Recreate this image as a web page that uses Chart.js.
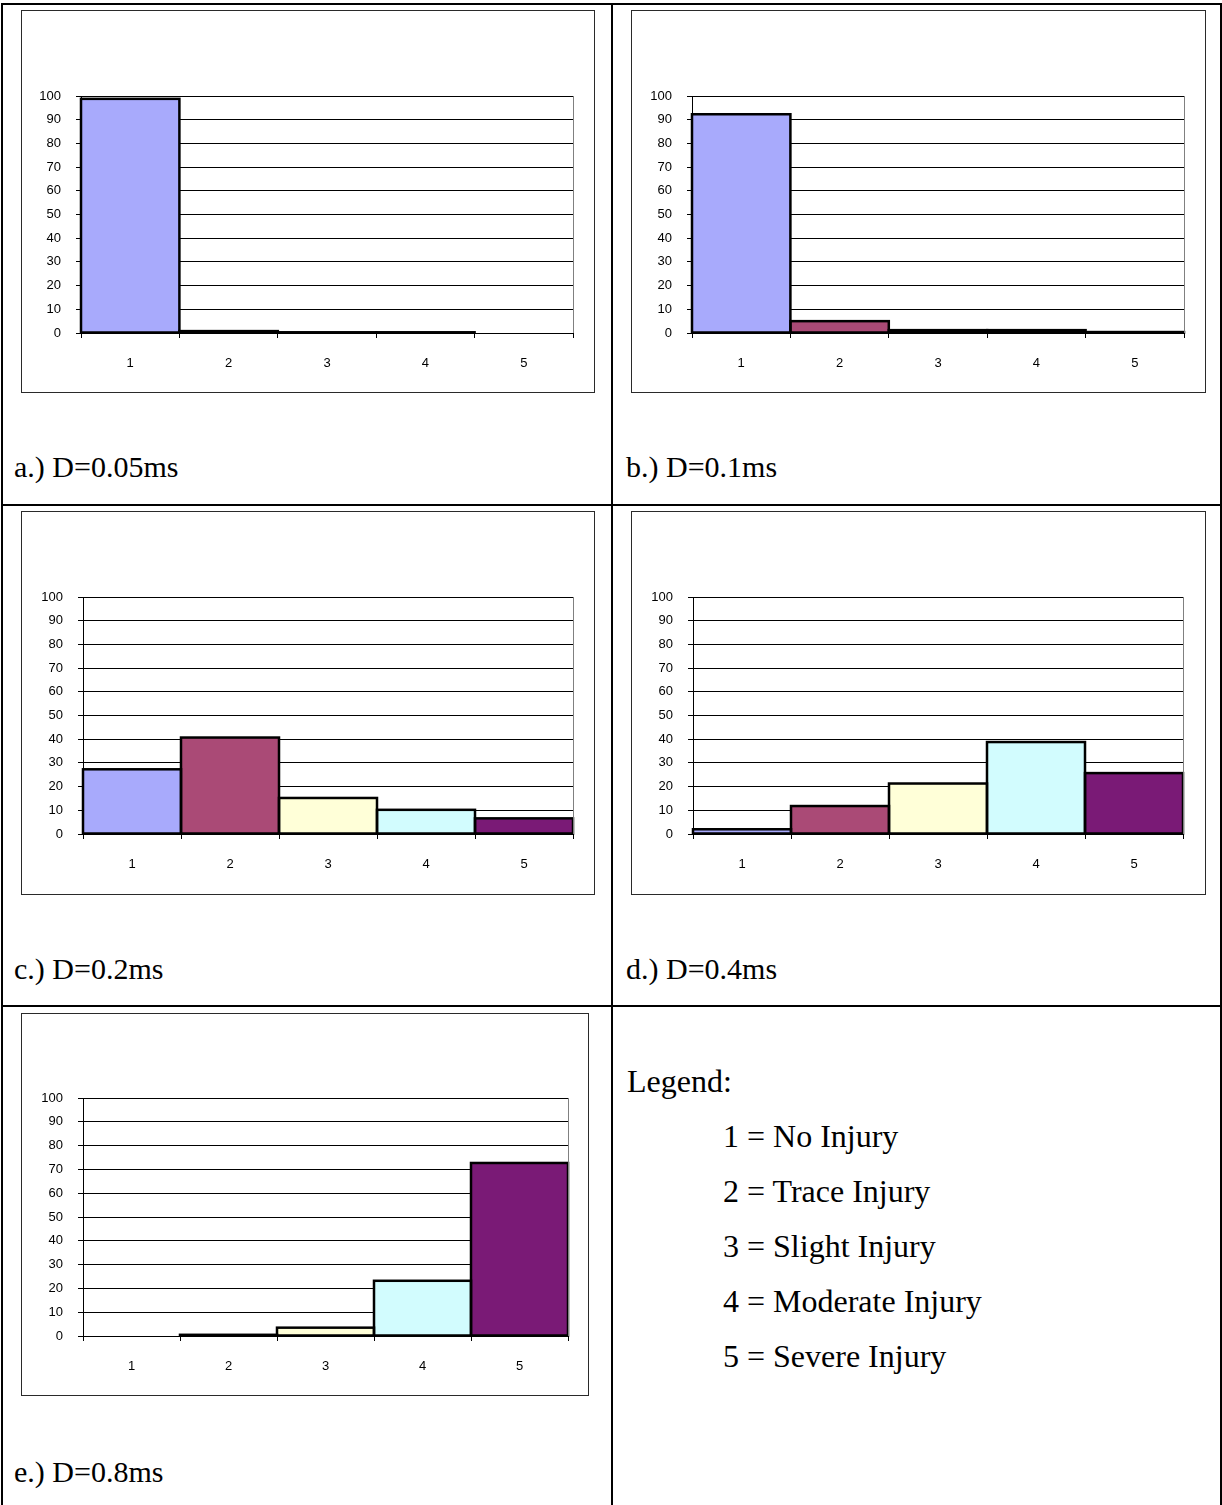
<!DOCTYPE html>
<html>
<head>
<meta charset="utf-8">
<script src="https://cdn.jsdelivr.net/npm/chart.js@4.4.1/dist/chart.umd.min.js"></script>
<style>
  html, body { margin: 0; padding: 0; background: #fff; }
  body { position: relative; width: 1222px; height: 1505px; overflow: hidden; font-family: "Liberation Serif", "Times New Roman", serif; color: #000; }
  .rule { position: absolute; background: #000; }
  .frame { position: absolute; border: 1px solid #2a2a2a; box-sizing: border-box; pointer-events: none; }
  canvas { position: absolute; }
  .caption { position: absolute; font-size: 30px; line-height: 1; white-space: nowrap; }
  .legend { position: absolute; font-size: 32px; line-height: 1; white-space: nowrap; }
</style>
</head>
<body>

<script>
// injury scale categories and the share (%) of each at every pulse duration
const categories = ['1', '2', '3', '4', '5'];
const injuryNames = ['No Injury', 'Trace Injury', 'Slight Injury', 'Moderate Injury', 'Severe Injury'];
const barColors = ['#A8AAFC', '#AA4A76', '#FFFFD8', '#D2FCFE', '#7A1A76'];

const share005 = [98.8, 0.8, 0.3, 0.3, 0];
const share01 = [92.3, 5.0, 1.2, 1.2, 0.4];
const share02 = [27.3, 40.7, 15.2, 10.2, 6.6];
const share04 = [2.0, 11.8, 21.3, 38.8, 25.7];
const share08 = [0, 0.5, 3.5, 23.2, 72.7];

const captions = ['a.) D=0.05ms', 'b.) D=0.1ms', 'c.) D=0.2ms', 'd.) D=0.4ms', 'e.) D=0.8ms'];
const yMax = 100;
const yStep = 10;

// page layout: frame box [x, y, w, h], plot area [left, top, right, bottom], caption baseline
const panels = [
  { values: share005, frame: [21, 10, 574, 383], plot: [81, 96, 573, 333], cap: [14, 477] },
  { values: share01, frame: [631, 10, 575, 383], plot: [692, 96, 1184, 333], cap: [626, 477] },
  { values: share02, frame: [21, 511, 574, 384], plot: [83, 597, 573, 834], cap: [14, 979] },
  { values: share04, frame: [631, 511, 575, 384], plot: [693, 597, 1183, 834], cap: [626, 979] },
  { values: share08, frame: [21, 1013, 568, 383], plot: [83, 1098, 568, 1336], cap: [14, 1482] }
];

const rules = [
  [1, 3, 1221, 2], [1, 504, 1221, 2], [1, 1005, 1221, 2],
  [1, 3, 2, 1502], [611, 3, 2, 1502], [1220, 3, 2, 1502]
];

function addEl(cls, x, y, w, h) {
  const el = document.createElement('div');
  el.className = cls;
  el.style.left = x + 'px';
  el.style.top = y + 'px';
  if (w !== undefined) el.style.width = w + 'px';
  if (h !== undefined) el.style.height = h + 'px';
  document.body.appendChild(el);
  return el;
}

rules.forEach(r => addEl('rule', r[0], r[1], r[2], r[3]));

// grey right-hand edge of the plot area
const plotEdge = {
  id: 'plotEdge',
  afterDraw(chart) {
    const { ctx, chartArea } = chart;
    ctx.save();
    ctx.strokeStyle = '#808080';
    ctx.lineWidth = 1;
    ctx.beginPath();
    ctx.moveTo(Math.round(chartArea.right) + 0.5, chartArea.top);
    ctx.lineTo(Math.round(chartArea.right) + 0.5, chartArea.bottom);
    ctx.stroke();
    ctx.restore();
  }
};

// outline each bar with a line centred on its edges, so thin bars still show
const barOutline = {
  id: 'barOutline',
  afterDatasetsDraw(chart) {
    const { ctx } = chart;
    const meta = chart.getDatasetMeta(0);
    ctx.save();
    ctx.strokeStyle = '#000';
    ctx.lineWidth = 2.5;
    meta.data.forEach((bar, i) => {
      if (!chart.data.datasets[0].data[i]) return;
      const { x, y, base, width } = bar.getProps(['x', 'y', 'base', 'width'], true);
      ctx.strokeRect(x - width / 2, y, width, base - y);
    });
    ctx.restore();
  }
};

const tickFont = { family: '"Liberation Sans", Arial, sans-serif', size: 13 };

function drawPanel(p) {
  const [fx, fy, fw, fh] = p.frame;
  const [l, t, r, b] = p.plot;

  const canvas = document.createElement('canvas');
  canvas.width = fw;
  canvas.height = fh;
  canvas.style.left = fx + 'px';
  canvas.style.top = fy + 'px';
  document.body.appendChild(canvas);
  addEl('frame', fx, fy, fw, fh);

  new Chart(canvas, {
    type: 'bar',
    data: {
      labels: categories,
      datasets: [{
        data: p.values,
        backgroundColor: barColors,
        borderWidth: 0,
        inflateAmount: 0,
        barPercentage: 1,
        categoryPercentage: 1
      }]
    },
    options: {
      responsive: false,
      animation: false,
      devicePixelRatio: 1,
      layout: { padding: { left: 0, top: t - fy, right: fx + fw - r, bottom: 0 } },
      plugins: { legend: { display: false }, tooltip: { enabled: false } },
      scales: {
        x: {
          grid: { offset: true, drawOnChartArea: false, color: '#000', tickLength: 5 },
          border: { color: '#000' },
          ticks: { color: '#000', font: tickFont, padding: 18 },
          afterFit: s => { s.height = fy + fh - b; }
        },
        y: {
          min: 0,
          max: yMax,
          ticks: { stepSize: yStep, color: '#000', font: tickFont, padding: 15 },
          grid: { color: '#000', tickLength: 5 },
          border: { color: '#000' },
          afterFit: s => { s.width = l - fx; }
        }
      }
    },
    plugins: [plotEdge, barOutline]
  });
}

panels.forEach((p, i) => {
  drawPanel(p);
  const cap = addEl('caption', p.cap[0], p.cap[1] - 25);
  cap.textContent = captions[i];
});

// legend cell
const head = addEl('legend', 627, 1092 - 27);
head.textContent = 'Legend:';
injuryNames.forEach((name, i) => {
  const row = addEl('legend', 723, 1147 + i * 55 - 27);
  row.textContent = categories[i] + ' = ' + name;
});
</script>
</body>
</html>
